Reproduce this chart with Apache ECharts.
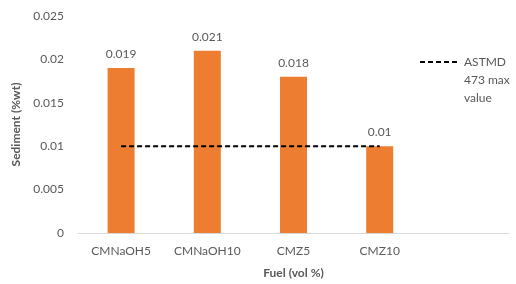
<!DOCTYPE html>
<html>
<head>
<meta charset="utf-8">
<script src="https://cdn.jsdelivr.net/npm/echarts@6/dist/echarts.min.js"></script>
<style>html,body{margin:0;padding:0;background:#fff}#c{width:516px;height:284px}</style>
</head>
<body>
<div id="c"></div>
<script>
var categories = ['CMNaOH5', 'CMNaOH10', 'CMZ5', 'CMZ10', ''];
var sediment = [0.019, 0.021, 0.018, 0.01, '-'];
var astmLimit = [0.01, 0.01, 0.01, 0.01, '-'];
var yMin = 0, yMax = 0.025, yStep = 0.005;
var seriesNames = ['Sediment', 'ASTMD 473 max value'];

var FONT = 'Lato';
var TXT = '#595959';
var chart = echarts.init(document.getElementById('c'));
chart.setOption({
  animation: false,
  textStyle: { fontFamily: FONT },
  grid: { left: 78, right: 7, top: 16, bottom: 50 },
  legend: {
    data: [seriesNames[1]],
    left: 419, top: 17, padding: 0,
    itemWidth: 39, itemHeight: 14, itemGap: 3,
    itemStyle: { color: 'rgba(0,0,0,0)', borderWidth: 0, opacity: 0 },
    formatter: function () { return '\n\nASTMD\n473 max\nvalue'; },
    textStyle: { fontFamily: FONT, fontSize: 12, color: TXT, lineHeight: 18 }
  },
  xAxis: {
    type: 'category', data: categories,
    name: 'Fuel (vol %)', nameLocation: 'middle', nameGap: 34,
    nameTextStyle: { fontFamily: FONT, fontSize: 12, fontWeight: 'bold', color: TXT },
    axisLine: { lineStyle: { color: '#D9D9D9', width: 1 } },
    axisTick: { show: false },
    axisLabel: { fontFamily: FONT, fontSize: 12, color: TXT, margin: 12, interval: 0 }
  },
  yAxis: {
    type: 'value', min: yMin, max: yMax, interval: yStep,
    name: 'Sediment (%wt)', nameLocation: 'middle', nameGap: 41,
    nameTextStyle: { fontFamily: FONT, fontSize: 12, fontWeight: 'bold', color: TXT },
    axisLine: { show: false }, axisTick: { show: false },
    splitLine: { show: false },
    axisLabel: { fontFamily: FONT, fontSize: 12, color: TXT, margin: 14,
      formatter: function (v) { return String(parseFloat(v.toFixed(3))); } }
  },
  series: [
    {
      name: seriesNames[0], type: 'bar', data: sediment, barWidth: 27,
      itemStyle: { color: '#ED7D31' },
      label: { show: true, position: 'top', distance: 8, fontFamily: FONT, fontSize: 12, color: TXT }
    },
    {
      name: seriesNames[1], type: 'line', data: astmLimit, symbol: 'none',
      lineStyle: { color: '#000', width: 2, type: [5, 3] },
      itemStyle: { color: '#000' }
    }
  ]
});
</script>
</body>
</html>
